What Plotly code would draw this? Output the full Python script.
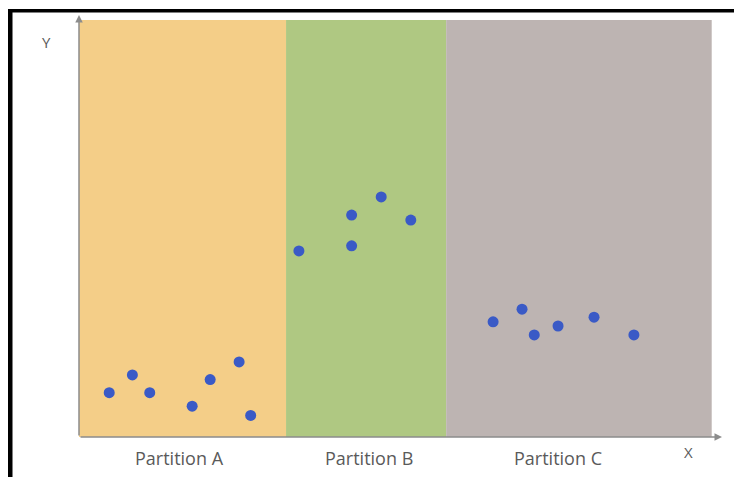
import plotly.graph_objects as go

# The page body has an 8px margin, so the figure is drawn 8px smaller and
# all pixel layout positions are shifted by that offset.
OFF = 8
W, H = 742 - OFF, 477 - OFF

# Data (arbitrary units, x 0-100, y 0-100)
partitions = ["Partition A", "Partition B", "Partition C"]
partition_label_x = [15.7, 45.1, 74.5]
partition_bounds = [0.0, 32.2, 57.1, 98.4]
partition_top = 98.8
partition_colors = ["#F4CE88", "#AFC882", "#BDB4B2"]

xa = [4.7, 8.3, 11.0, 17.6, 20.4, 24.9, 26.7]
ya = [10.5, 14.7, 10.5, 7.3, 13.6, 17.8, 5.1]
xb = [34.2, 42.4, 42.4, 47.0, 51.6]
yb = [44.1, 52.6, 45.3, 56.9, 51.4]
xc = [64.4, 68.9, 70.8, 74.5, 80.1, 86.3]
yc = [27.3, 30.3, 24.2, 26.3, 28.4, 24.2]

xs = xa + xb + xc
ys = ya + yb + yc

fig = go.Figure()
fig.add_trace(go.Scatter(
    x=xs, y=ys, mode="markers",
    marker=dict(color="#3A5AC6", size=11, line=dict(width=0)),
    showlegend=False, hoverinfo="skip"))


def px_x(p):
    return (p - OFF) / W


def px_y(p):
    return 1 - (p - OFF) / H


shapes = []
for i in range(3):
    shapes.append(dict(type="rect", xref="x", yref="y",
                       x0=partition_bounds[i], x1=partition_bounds[i + 1],
                       y0=0, y1=partition_top,
                       fillcolor=partition_colors[i], line=dict(width=0),
                       layer="below"))
# black frame (top and left)
shapes.append(dict(type="rect", xref="paper", yref="paper",
                   x0=px_x(8), x1=1, y0=px_y(12.5), y1=px_y(9),
                   fillcolor="#000000", line=dict(width=0)))
shapes.append(dict(type="rect", xref="paper", yref="paper",
                   x0=px_x(8), x1=px_x(12.5), y0=0, y1=px_y(9),
                   fillcolor="#000000", line=dict(width=0)))

annotations = []
# axes with arrows
annotations.append(dict(x=100, y=0, ax=0, ay=0, xref="x", yref="y",
                        axref="x", ayref="y", text="", showarrow=True,
                        arrowhead=2, arrowsize=1, arrowwidth=1.5,
                        arrowcolor="#8C8C8C"))
annotations.append(dict(x=0, y=100, ax=0, ay=0, xref="x", yref="y",
                        axref="x", ayref="y", text="", showarrow=True,
                        arrowhead=2, arrowsize=1, arrowwidth=1.5,
                        arrowcolor="#8C8C8C"))
label_font = dict(family="Open Sans", size=18, color="#5A5A5A")
for i, name in enumerate(partitions):
    annotations.append(dict(x=partition_label_x[i],
                            y=px_y(458), xref="x", yref="paper", text=name,
                            xanchor="center", yanchor="middle",
                            showarrow=False, font=label_font))
annotations.append(dict(x=px_x(46), y=px_y(42), xref="paper", yref="paper",
                        text="Y", showarrow=False,
                        xanchor="center", yanchor="middle",
                        font=dict(family="Open Sans", size=15, color="#5A5A5A")))
annotations.append(dict(x=px_x(688), y=px_y(452), xref="paper", yref="paper",
                        text="X", showarrow=False,
                        xanchor="center", yanchor="middle",
                        font=dict(family="Open Sans", size=15, color="#5A5A5A")))

fig.update_layout(
    width=W, height=H,
    margin=dict(l=0, r=0, t=0, b=0),
    paper_bgcolor="white", plot_bgcolor="rgba(0,0,0,0)",
    xaxis=dict(domain=[px_x(79), px_x(722)], range=[0, 100], visible=False,
               fixedrange=True),
    yaxis=dict(domain=[px_y(437), px_y(15)], range=[0, 100],
               visible=False, fixedrange=True),
    shapes=shapes, annotations=annotations,
)

fig.write_html("out.html")
